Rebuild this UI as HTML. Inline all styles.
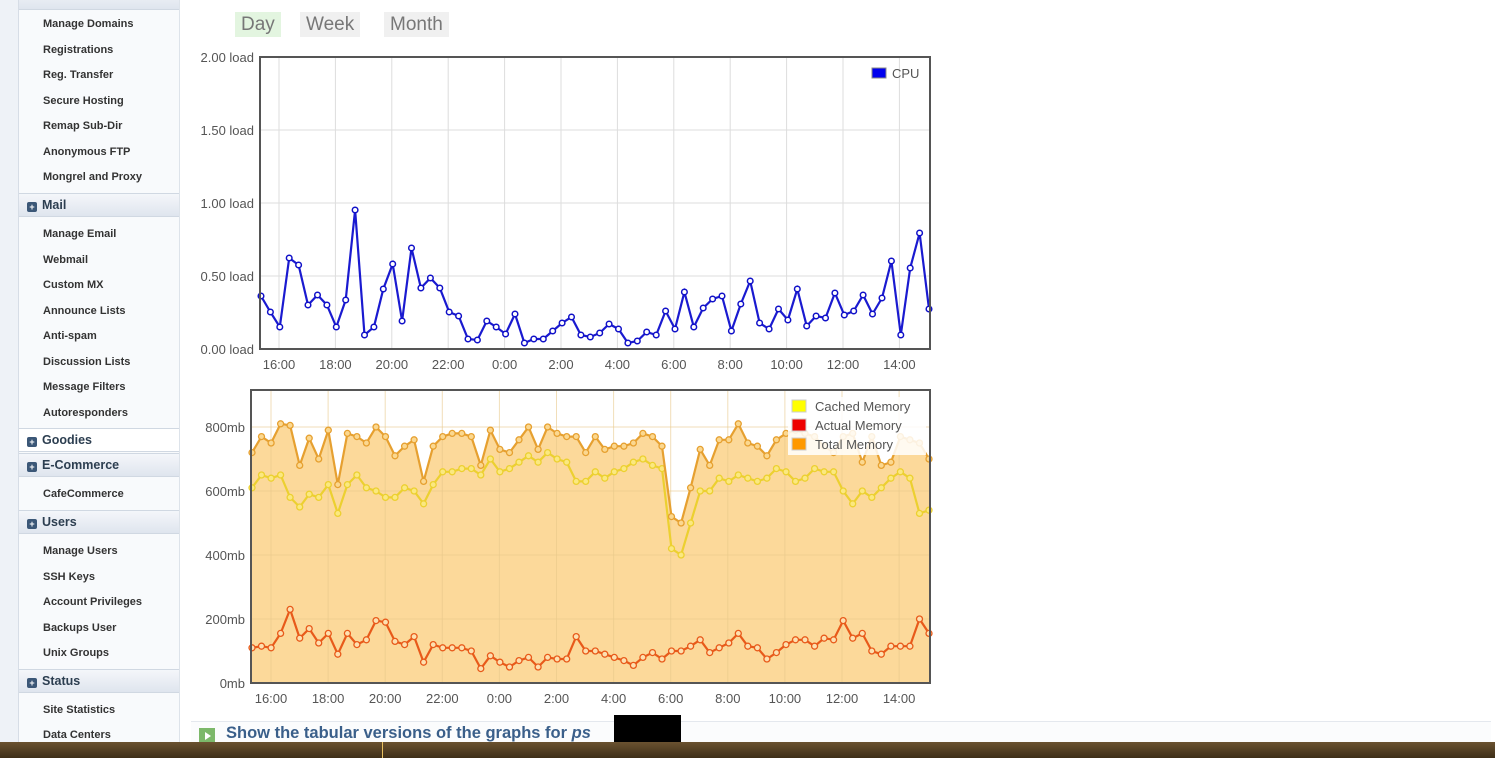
<!DOCTYPE html>
<html><head><meta charset="utf-8"><style>
body{margin:0;width:1495px;height:758px;overflow:hidden;background:#fff;font-family:"Liberation Sans",sans-serif;position:relative}
#side{position:absolute;left:0;top:0;width:18px;height:742px;background:#eef2f7;border-right:1px solid #d6dde6}
#menu{position:absolute;left:19px;top:0;width:160px;height:742px;background:#f8fafc;border-right:1px solid #dde3ea}
.it{position:absolute;left:24px;font-size:11px;font-weight:bold;color:#333;white-space:nowrap}
.hd{position:absolute;left:0;width:160px;height:22px;background:linear-gradient(#f4f6fa,#dfe5ee);border-top:1px solid #d0d8e2;border-bottom:1px solid #d0d8e2;font-size:12.5px;font-weight:bold;color:#2c3e50;line-height:22px}
.hd i{display:inline-block;width:10px;height:10px;background:#3b5777;border-radius:2px;margin:0 5px 0 8px;vertical-align:-1px;color:#fff;font-size:9px;font-style:normal;line-height:10px;text-align:center}
.btn{position:absolute;top:12px;height:25px;font-size:19px;color:#777;background:#f0f0f0;line-height:25px;padding:0 6px}
#bar{position:absolute;left:0;top:742px;width:1495px;height:16px;background:linear-gradient(#6a5230,#3e2e18)}
</style></head><body>
<div id="side"></div>
<div id="menu">
<div class="hd" style="top:-14px"></div>
<div class="it" style="top:18px">Manage Domains</div>
<div class="it" style="top:44px">Registrations</div>
<div class="it" style="top:69px">Reg. Transfer</div>
<div class="it" style="top:95px">Secure Hosting</div>
<div class="it" style="top:120px">Remap Sub-Dir</div>
<div class="it" style="top:146px">Anonymous FTP</div>
<div class="it" style="top:171px">Mongrel and Proxy</div>
<div class="hd" style="top:193px"><i>+</i>Mail</div>
<div class="it" style="top:228px">Manage Email</div>
<div class="it" style="top:254px">Webmail</div>
<div class="it" style="top:279px">Custom MX</div>
<div class="it" style="top:305px">Announce Lists</div>
<div class="it" style="top:330px">Anti-spam</div>
<div class="it" style="top:356px">Discussion Lists</div>
<div class="it" style="top:381px">Message Filters</div>
<div class="it" style="top:407px">Autoresponders</div>
<div class="hd" style="top:428px;background:#fff"><i>+</i>Goodies</div>
<div class="hd" style="top:453px"><i>+</i>E-Commerce</div>
<div class="it" style="top:488px">CafeCommerce</div>
<div class="hd" style="top:510px"><i>+</i>Users</div>
<div class="it" style="top:545px">Manage Users</div>
<div class="it" style="top:571px">SSH Keys</div>
<div class="it" style="top:596px">Account Privileges</div>
<div class="it" style="top:622px">Backups User</div>
<div class="it" style="top:647px">Unix Groups</div>
<div class="hd" style="top:669px"><i>+</i>Status</div>
<div class="it" style="top:704px">Site Statistics</div>
<div class="it" style="top:729px">Data Centers</div>
</div>
<div class="btn" style="left:235px;background:#e3f5e0">Day</div>
<div class="btn" style="left:300px">Week</div>
<div class="btn" style="left:384px">Month</div>
<svg id="s" width="1495" height="758" style="position:absolute;left:0;top:0"></svg>
<div style="position:absolute;left:191px;top:721px;width:1300px;height:24px;border-top:1px solid #e4e8ee;background:#fbfcfd"></div>
<div style="position:absolute;left:199px;top:728px;width:16px;height:16px;background:#7cb86a"><div style="margin:4px 0 0 6px;width:0;height:0;border-left:6px solid #fff;border-top:4px solid transparent;border-bottom:4px solid transparent"></div></div>
<div style="position:absolute;left:226px;top:724px;font-size:16.5px;font-weight:bold;color:#3a5f8a">Show the tabular versions of the graphs for <i>ps</i></div>
<div style="position:absolute;left:614px;top:715px;width:67px;height:32px;background:#000"></div>
<div id="bar"><div style="position:absolute;left:382px;top:0;width:1px;height:16px;background:#e8c060"></div></div>
<script>
var s=document.getElementById('s'),h='';
function T(x,y,t,a,c,fs){h+='<text x="'+x+'" y="'+y+'" font-size="'+(fs||13)+'" fill="'+(c||'#555')+'" text-anchor="'+(a||'middle')+'">'+t+'</text>';}
var labs=['16:00','18:00','20:00','22:00','0:00','2:00','4:00','6:00','8:00','10:00','12:00','14:00'];
var cx0=260,cx1=930,cy0=57,cy1=349;
for(var i=0;i<12;i++){var x=279+i*56.4;h+='<line x1="'+x+'" y1="'+cy0+'" x2="'+x+'" y2="'+cy1+'" stroke="#ddd"/>';T(x,369,labs[i]);}
for(var k=0;k<5;k++){var y=cy1-k*73;h+='<line x1="'+cx0+'" y1="'+y+'" x2="'+cx1+'" y2="'+y+'" stroke="#ddd"/>';T(254,y+5,(k*0.5).toFixed(2)+' load','end');}
var cpu=[296,312,327,258,265,305,295,305,327,300,210,335,327,289,264,321,248,288,278,288,312,316,339,340,321,327,334,314,343,339,339,331,323,317,335,337,333,324,329,343,341,332,335,311,329,292,327,308,299,296,331,304,281,323,329,309,320,289,326,316,318,293,315,311,295,314,298,261,335,268,233,309];
var p='',c='';for(var i=0;i<cpu.length;i++){var x=261+i*(668/71);p+=(i?'L':'M')+x.toFixed(1)+','+cpu[i];c+='<circle cx="'+x.toFixed(1)+'" cy="'+cpu[i]+'" r="2.8" fill="#fff" stroke="#1010c8" stroke-width="1.5"/>';}
h+='<path d="'+p+'" fill="none" stroke="#1a1ad0" stroke-width="2.2"/>'+c;
h+='<rect x="'+cx0+'" y="'+cy0+'" width="670" height="292" fill="none" stroke="#555" stroke-width="2"/>';
h+='<rect x="872" y="68" width="14" height="10" fill="#0000ee" stroke="#888"/>';T(892,78,'CPU','start');
var mx0=251,mx1=930,my0=390,my1=683,sc=0.32;
var tot=[720,770,750,810,805,680,765,700,790,620,780,770,750,800,770,710,740,760,630,740,770,780,780,770,680,790,730,720,760,800,730,800,780,770,770,720,770,730,740,740,750,780,770,740,520,500,610,730,680,760,760,810,750,740,710,760,780,790,780,770,740,720,770,780,690,770,680,690,770,760,750,700];
var cac=[610,650,640,650,580,550,590,580,620,530,620,650,610,600,580,580,610,600,560,620,660,660,670,670,650,700,660,670,690,710,690,720,700,690,630,630,660,640,660,670,690,700,680,670,420,400,500,600,600,640,630,650,640,630,640,670,660,630,640,670,660,660,600,560,600,580,610,640,660,640,530,540];
var act=[110,115,110,155,230,140,170,125,155,90,155,120,135,195,190,130,120,145,65,120,110,110,110,100,45,85,65,50,70,80,50,80,75,75,145,100,100,90,80,70,55,80,95,75,100,100,115,135,95,110,125,155,115,110,75,95,120,135,135,115,140,135,195,140,155,100,90,115,115,115,200,155];
function X(i){return 252+i*(677/71);}function Y(v){return my1-v*sc;}
var a='M'+X(0)+','+my1;for(var i=0;i<72;i++)a+='L'+X(i).toFixed(1)+','+Y(tot[i]).toFixed(1);a+='L'+X(71)+','+my1+'Z';
h+='<path d="'+a+'" fill="#fcd99a"/>';
for(var i=0;i<12;i++){var x=271+i*57.1;h+='<line x1="'+x+'" y1="'+my0+'" x2="'+x+'" y2="'+my1+'" stroke="#e8c88a" stroke-opacity=".6"/>';T(x,703,labs[i]);}
for(var k=0;k<5;k++){var y=my1-k*64;h+='<line x1="'+mx0+'" y1="'+y+'" x2="'+mx1+'" y2="'+y+'" stroke="#e8c88a" stroke-opacity=".6"/>';T(245,y+5,(k*200)+'mb','end');}
function ser(d,col,fill){var p='',c='';for(var i=0;i<72;i++){var x=X(i).toFixed(1),y=Y(d[i]).toFixed(1);p+=(i?'L':'M')+x+','+y;c+='<circle cx="'+x+'" cy="'+y+'" r="3" fill="'+fill+'" stroke="'+col+'" stroke-width="1.3"/>';}h+='<path d="'+p+'" fill="none" stroke="'+col+'" stroke-width="2.2"/>'+c;}
ser(act,'#e85a1a','#fde0b0');ser(cac,'#ecd030','#fbe880');ser(tot,'#e6a030','#fbd890');
h+='<rect x="'+mx0+'" y="'+my0+'" width="679" height="293" fill="none" stroke="#555" stroke-width="2"/>';
h+='<rect x="788" y="397" width="138" height="58" fill="#fff" fill-opacity=".85"/>';
h+='<rect x="792" y="400" width="14" height="12" fill="#ffff00" stroke="#ccc"/>';T(815,411,'Cached Memory','start');
h+='<rect x="792" y="419" width="14" height="12" fill="#ee0000" stroke="#ccc"/>';T(815,430,'Actual Memory','start');
h+='<rect x="792" y="438" width="14" height="12" fill="#ff9900" stroke="#ccc"/>';T(815,449,'Total Memory','start');
s.innerHTML=h;
</script>
</body></html>
